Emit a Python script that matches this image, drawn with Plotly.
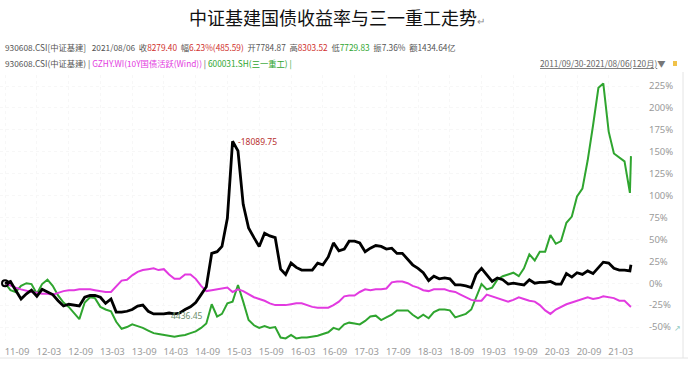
import pandas as pd
import plotly.graph_objects as go

# ---- data (monthly, % change from 2011/09/30) ----
dates = [d.strftime("%Y-%m-%d") for d in pd.date_range("2011-09-30", periods=119, freq="ME")] + ["2021-08-06"]

infra = [0, 2, -8, -18, -12, -8, -15, -7, -10, -13, -20, -26, -24, -25, -26, -16, -14, -14, -16, -23,
         -18, -33, -33, -32, -30, -26, -25, -32, -35, -35, -35, -34, -35, -34, -30, -27, -22, -13, -4, 34,
         36, 42, 74, 162, 151, 90, 63, 52, 42, 57, 54, 52, 16, 10, 23, 18, 15, 15, 15, 23,
         21, 30, 46, 37, 39, 48, 48, 46, 36, 40, 43, 42, 39, 40, 34, 34, 27, 21, 17, 12,
         3, 8, 5, 6, 5, -2, -2, -3, -5, 10, 17, 10, 2, 6, 4, -1, 0, -1, -2, 4,
         0, 1, 1, 2, -1, -1, 11, 7, 12, 10, 14, 11, 18, 24, 23, 17, 15, 15, 14, 21]

bond = [0, -3, -5, -7, -9, -10, -11, -12, -12, -13, -11, -9, -8, -8, -7, -7, -7, -8, -9, -10,
        -10, -4, 3, 4, 9, 13, 15, 16, 17, 15, 16, 10, 5, 5, 10, 10, 5, -3, -9, -8,
        -7, -6, -5, -10, -7, -9, -13, -16, -18, -20, -23, -25, -25, -25, -24, -23, -23, -25, -27, -28,
        -28, -28, -25, -21, -15, -14, -14, -10, -7, -8, -7, -7, -6, 1, 2, 2, 0, -3, -5, -8,
        -9, -7, -7, -7, -9, -10, -13, -16, -19, -20, -20, -13, -15, -17, -19, -21, -19, -16, -18, -20,
        -21, -25, -31, -35, -30, -27, -24, -22, -20, -18, -16, -18, -17, -15, -16, -17, -20, -20, -26, -27]

sany = [0, -8, -10, -3, 0, -1, -12, -1, 4, -3, -14, -22, -27, -34, -41, -22, -16, -17, -27, -30,
        -32, -44, -52, -50, -47, -49, -51, -54, -57, -58, -59, -60, -61, -60, -59, -57, -55, -51, -46, -24,
        -38, -35, -23, -21, -2, -21, -42, -48, -51, -49, -51, -50, -62, -63, -59, -63, -62, -62, -61, -60,
        -58, -56, -51, -53, -47, -45, -46, -47, -43, -38, -37, -42, -39, -36, -31, -31, -31, -36, -40, -36,
        -40, -33, -30, -30, -31, -39, -37, -35, -30, -17, -1, -7, -5, 4, 8, 10, 12, 8, 17, 33,
        26, 36, 36, 55, 45, 48, 69, 76, 99, 108, 140, 180, 223, 228, 173, 148, 143, 139, 103, 145]

tick_dates = [d.strftime("%Y-%m-%d") for d in pd.date_range("2011-09-30", "2021-03-31", freq="6ME")]
tick_text = [d[2:4] + "-" + d[5:7] for d in tick_dates]
y_ticks = list(range(-50, 226, 25))
y_text = [f"{v}%" for v in y_ticks]

peak_label = "18089.75"
low_label = "4436.45"

# ---- figure ----
W, H = 688, 390
L, R, T, B = 0, 48, 75, 50
PW, PH = W - L - R, H - T - B


def px(x):
    return (x - L) / PW


def py(y):
    return (H - B - y) / PH


fig = go.Figure()
fig.add_trace(go.Scatter(x=dates, y=sany, mode="lines", line=dict(color="#2fa52f", width=2), name="三一重工"))
fig.add_trace(go.Scatter(x=dates, y=bond, mode="lines", line=dict(color="#e23ae0", width=2), name="10Y国债"))
fig.add_trace(go.Scatter(x=dates, y=infra, mode="lines", line=dict(color="#000000", width=2.8), name="中证基建"))
fig.add_trace(go.Scatter(x=dates[:1], y=infra[:1], mode="markers",
                         marker=dict(symbol="circle-open", size=6, color="#000", line=dict(width=2, color="#000"))))

pk = infra.index(max(infra))
lo = 31

fig.add_annotation(x=dates[pk], y=infra[pk], text="-" + peak_label, showarrow=False, xanchor="left",
                   xshift=3, font=dict(size=8.5, color="#b8322f", family="Noto Sans"))
fig.add_annotation(x=dates[lo], y=infra[lo], text=low_label, showarrow=False, xanchor="left",
                   xshift=0, yshift=-2, font=dict(size=8.5, color="#6e8f6e", family="Noto Sans"))

# title
fig.add_annotation(xref="paper", yref="paper", x=px(337), y=py(17), text="中证基建国债收益率与三一重工走势<span style='font-size:10px;color:#888'>↵</span>",
                   showarrow=False, xanchor="center", yanchor="middle",
                   font=dict(size=18, color="#111", family="Noto Sans CJK SC"))

nb = "\u00a0"
gray = "#555"
red = "#d0312d"
green = "#2fa52f"
line1 = (f"<span style='color:{gray}'>930608.CSI[中证基建]{nb*3}2021/08/06{nb*2}收</span>"
         f"<span style='color:{red}'>8279.40</span><span style='color:{gray}'>{nb}{nb}幅</span>"
         f"<span style='color:{red}'>6.23%(485.59)</span><span style='color:{gray}'>{nb}{nb}开7784.87{nb}{nb}高</span>"
         f"<span style='color:{red}'>8303.52</span><span style='color:{gray}'>{nb}{nb}低</span>"
         f"<span style='color:{green}'>7729.83</span><span style='color:{gray}'>{nb}{nb}振7.36%{nb}{nb}额1434.64亿</span>")
fig.add_annotation(xref="paper", yref="paper", x=px(3), y=py(47), text=line1, showarrow=False,
                   xanchor="left", yanchor="middle", font=dict(size=8.3, family="Noto Sans CJK SC"))

line2 = (f"<span style='color:{gray}'>930608.CSI(中证基建) | </span>"
         f"<span style='color:#e23ae0'>GZHY.WI(10Y国债活跃(Wind))</span>"
         f"<span style='color:{gray}'> | </span><span style='color:{green}'>600031.SH(三一重工) |</span>")
fig.add_annotation(xref="paper", yref="paper", x=px(3), y=py(63), text=line2, showarrow=False,
                   xanchor="left", yanchor="middle", font=dict(size=8.3, family="Noto Sans CJK SC"))

fig.add_annotation(xref="paper", yref="paper", x=px(668), y=py(63),
                   text="<u>2011/09/30-2021/08/06(120月)</u><span style='color:#777'>▼</span>",
                   showarrow=False, xanchor="right", yanchor="middle",
                   font=dict(size=8.3, color="#666", family="Noto Sans CJK SC"))
fig.add_shape(type="rect", xref="paper", yref="paper", x0=px(673), x1=px(677), y0=py(66), y1=py(61),
              fillcolor="#f0c24a", line=dict(width=0))
fig.add_annotation(xref="paper", yref="paper", x=px(672), y=py(327), text="↗", showarrow=False,
                   xanchor="left", yanchor="middle", font=dict(size=8, color="#8cc9c0"))

# bottom / right frame lines
fig.add_shape(type="line", xref="paper", yref="paper", x0=px(0), x1=px(688), y0=py(358), y1=py(358),
              line=dict(color="#e4e4e4", width=1))
fig.add_shape(type="line", xref="paper", yref="paper", x0=px(683), x1=px(683), y0=py(72), y1=py(358),
              line=dict(color="#e4e4e4", width=1))

fig.update_layout(
    width=W, height=H, margin=dict(l=L, r=R, t=T, b=B),
    paper_bgcolor="white", plot_bgcolor="white", showlegend=False,
    font=dict(family="Noto Sans", color="#999"),
)
fig.update_xaxes(type="date", range=["2011-09-01", "2021-09-27"], tickvals=tick_dates, ticktext=tick_text,
                 tickfont=dict(size=9.5, color="#9a9a9a"), ticks="", ticklabelshift=12, ticklabelstandoff=4,
                 showgrid=True, gridcolor="#f7f7f7", griddash="dot", zeroline=False, showline=False)
fig.update_yaxes(side="right", range=[-64.8, 237.6], tickvals=y_ticks, ticktext=y_text,
                 tickfont=dict(size=9.5, color="#9a9a9a"), ticks="", ticklabelstandoff=8,
                 showgrid=True, gridcolor="#f7f7f7", griddash="dot", zeroline=False, showline=False)

fig.write_html("out.html")
